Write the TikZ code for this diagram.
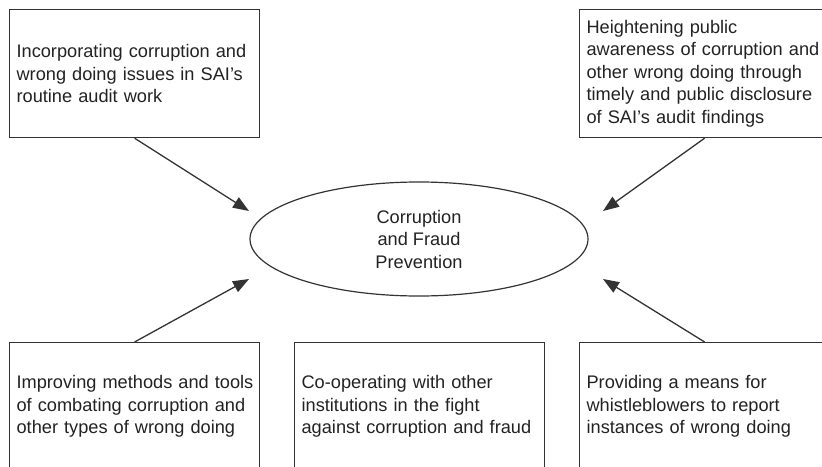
\documentclass[tikz,border=0pt]{standalone}
\usepackage{fontspec}
\setmainfont{Liberation Sans}
\usetikzlibrary{arrows.meta,shapes.geometric}
\definecolor{inkline}{HTML}{333333}
\definecolor{inktext}{HTML}{222222}
\begin{document}
\begin{tikzpicture}[x=1pt,y=-1pt,
  labelfont/.style={font=\fontsize{18.2}{22.5}\selectfont, text=inktext},
  box/.style={draw=inkline, line width=1.2pt, minimum width=250pt,
    minimum height=128pt, text width=236pt, inner xsep=7pt, inner ysep=0pt,
    align=left, anchor=north west, labelfont},
  hub/.style={ellipse, draw=inkline, line width=1.2pt, minimum width=338pt,
    minimum height=114pt, inner sep=0pt, align=center, labelfont},
  conn/.style={draw=inkline, line width=1.3pt,
    -{Triangle[length=16pt,width=12pt]}}
]
\useasboundingbox (0,0) rectangle (822,466);
\clip (0,0) rectangle (822,466);

% outer boxes
\node[box] (tl) at (9,9)
  {Incorporating corruption and\\wrong doing issues in SAI's\\routine audit work};
\node[box] (tr) at (579,9)
  {Heightening public\\awareness of corruption and\\other wrong doing through\\timely and public disclosure\\of SAI's audit findings};
\node[box] (bl) at (9,342)
  {\mbox{Improving methods and tools}\\of combating corruption and\\other types of wrong doing};
\node[box] (bm) at (294,342)
  {Co-operating with other\\institutions in the fight\\against corruption and fraud};
\node[box] (br) at (579,342)
  {Providing a means for\\whistleblowers to report\\instances of wrong doing};

% central goal
\node[hub] (goal) at (419,239) {Corruption\\and Fraud\\Prevention};

% arrow tips stop short of the ellipse
\coordinate (ptl) at (249,211);
\coordinate (ptr) at (603,211);
\coordinate (pbl) at (249,279);
\coordinate (pbr) at (603,279);

\draw[conn] (tl.south) -- (ptl);
\draw[conn] (tr.south) -- (ptr);
\draw[conn] (bl.north) -- (pbl);
\draw[conn] (br.north) -- (pbr);
\end{tikzpicture}
\end{document}
